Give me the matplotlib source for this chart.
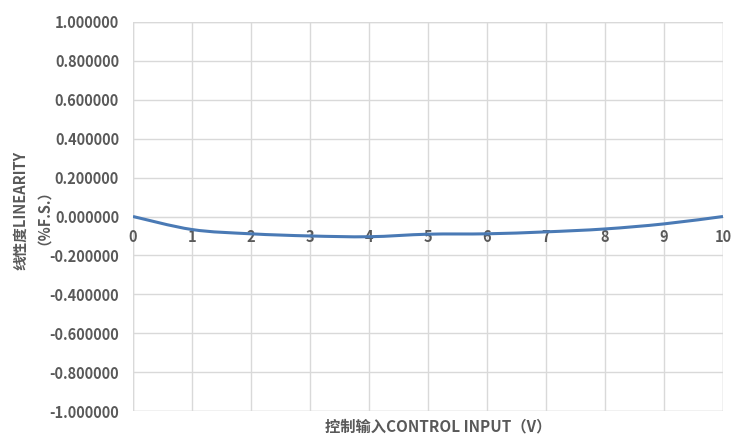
import matplotlib
matplotlib.use("Agg")
import matplotlib.pyplot as plt
from matplotlib.path import Path
from matplotlib.patches import PathPatch
import numpy as np

plt.rcParams['font.family'] = ['Noto Sans CJK SC', 'DejaVu Sans']

x_vals = [0, 1, 2, 3, 4, 5, 6, 7, 8, 9, 10]
linearity = [0.0, -0.067, -0.089, -0.100, -0.104, -0.091, -0.089, -0.079, -0.064, -0.038, 0.0]
y_ticks = [-1.0, -0.8, -0.6, -0.4, -0.2, 0.0, 0.2, 0.4, 0.6, 0.8, 1.0]
x_label = "控制输入CONTROL INPUT（V）"
y_label = "线性度LINEARITY\n（%F.S.）"

fig = plt.figure(figsize=(7.51, 4.46), dpi=100)
ax = fig.add_axes([133/751, 1-411/446, (723-133)/751, (411-22)/446])

# smooth curve (Catmull-Rom -> cubic Bezier) through the data points
xs = np.array(x_vals, float); ys = np.array(linearity, float)
verts = [(xs[0], ys[0])]; codes = [Path.MOVETO]
n = len(xs)
for i in range(n - 1):
    p0 = (xs[max(i-1, 0)], ys[max(i-1, 0)])
    p1 = (xs[i], ys[i]); p2 = (xs[i+1], ys[i+1])
    p3 = (xs[min(i+2, n-1)], ys[min(i+2, n-1)])
    c1 = (p1[0] + (p2[0]-p0[0])/6, p1[1] + (p2[1]-p0[1])/6)
    c2 = (p2[0] - (p3[0]-p1[0])/6, p2[1] - (p3[1]-p1[1])/6)
    verts += [c1, c2, p2]; codes += [Path.CURVE4]*3
ax.add_patch(PathPatch(Path(verts, codes), facecolor='none', edgecolor='#4a7ab5', lw=2.2, zorder=3))

ax.set_xlim(0, 10)
ax.set_ylim(-1, 1)
ax.set_xticks(x_vals)
ax.set_yticks(y_ticks)
ax.set_yticklabels([f"{v:.6f}" for v in y_ticks])
ax.grid(True, color='#d9d9d9', lw=1)
ax.set_axisbelow(True)
for s in ['top', 'right', 'left']:
    ax.spines[s].set_visible(False)
ax.spines['bottom'].set_position(('data', 0))
ax.spines['bottom'].set_color('#d9d9d9')
ax.tick_params(axis='both', length=0, colors='#595959', labelsize=10.5)
ax.tick_params(axis='x', pad=9)
ax.tick_params(axis='y', pad=10)
for lab in ax.get_xticklabels() + ax.get_yticklabels():
    lab.set_fontweight('bold')

# border gridlines on edges
for v in [0, 10]:
    ax.axvline(v, color='#d9d9d9', lw=1, zorder=0)
for v in [-1, 1]:
    ax.axhline(v, color='#d9d9d9', lw=1, zorder=0)

fig.text(438/751, 1-426/446, x_label, ha='center', va='center', fontsize=11,
         fontweight='bold', color='#595959')
fig.text(28/751, 1-210/446, y_label, ha='center', va='center', rotation=90, fontsize=10.5,
         fontweight='bold', color='#595959', linespacing=1.0, multialignment='center')

fig.savefig("out.png", dpi=100)
